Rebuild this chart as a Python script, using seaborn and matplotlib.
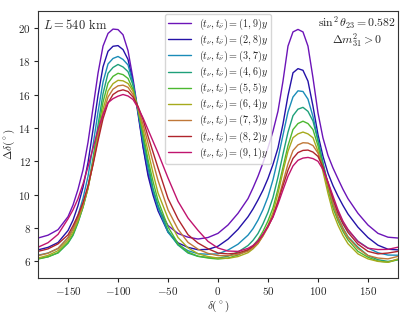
import numpy as np
import pandas as pd
import matplotlib
matplotlib.use("Agg")
import matplotlib.pyplot as plt
import seaborn as sns

sns.set_style("ticks")
plt.rcParams['font.family'] = 'serif'
plt.rcParams['font.serif'] = ['cmr10', 'DejaVu Serif']
plt.rcParams['mathtext.fontset'] = 'cm'
plt.rcParams['axes.formatter.use_mathtext'] = True

# delta_CP grid (degrees), finer around the two peaks
delta = [-180, -170, -160, -150, -145, -140, -135, -130, -125, -120, -115, -110, -105, -100,
         -95, -90, -85, -80, -75, -70, -65, -60, -50, -40, -30, -20, -10, 0, 10, 20, 30, 35,
         40, 45, 50, 55, 60, 65, 70, 75, 80, 85, 90, 95, 100, 105, 110, 115, 120, 125, 130,
         140, 150, 160, 170, 180]

# precision on delta_CP for each (t_nu, t_nubar) split
dd_19 = [7.40, 7.57, 7.90, 8.68, 9.38, 10.32, 11.49, 13.14, 15.20, 17.28, 18.9, 19.66, 19.92, 19.89,
         19.58, 18.63, 16.95, 15.0, 12.9, 11.3, 10.12, 9.22, 8.15, 7.67, 7.45, 7.34, 7.43, 7.68,
         8.18, 8.88, 9.76, 10.4, 11.1, 11.9, 12.8, 13.8, 15.0, 16.8, 18.9, 19.75, 19.9, 19.75, 18.9,
         17.0, 14.9, 13.4, 12.35, 11.6, 10.95, 10.32, 9.76, 8.88, 8.18, 7.68, 7.45, 7.40]
dd_28 = [6.69, 6.84, 7.13, 7.85, 8.47, 9.35, 10.44, 11.93, 13.89, 15.95, 17.66, 18.59, 18.89, 18.93,
         18.69, 18.1, 16.74, 14.84, 12.86, 11.14, 9.97, 9.03, 7.75, 7.11, 6.84, 6.7, 6.72, 6.91,
         7.33, 7.92, 8.67, 9.14, 9.68, 10.27, 10.97, 11.81, 12.8, 14.23, 15.93, 17.3, 17.55, 17.45,
         16.8, 15.3, 13.6, 12.3, 11.29, 10.54, 9.91, 9.35, 8.84, 8.05, 7.43, 6.97, 6.73, 6.69]
dd_37 = [6.37, 6.5, 6.77, 7.42, 7.96, 8.77, 9.78, 11.1, 12.95, 14.96, 16.75, 17.83, 18.16, 18.28,
         18.1, 17.77, 16.68, 15.0, 13.2, 11.57, 10.24, 9.23, 7.75, 7.0, 6.64, 6.46, 6.43, 6.45,
         6.68, 7.03, 7.57, 7.96, 8.47, 9.1, 9.87, 10.89, 12.16, 13.57, 14.95, 15.85, 16.22, 16.18,
         15.72, 14.68, 13.28, 11.89, 10.66, 9.7, 8.97, 8.35, 7.87, 7.21, 6.8, 6.52, 6.38, 6.37]
dd_46 = [6.16, 6.28, 6.51, 7.09, 7.56, 8.32, 9.26, 10.43, 12.18, 14.17, 16.05, 17.27, 17.62, 17.8,
         17.65, 17.37, 16.56, 15.05, 13.45, 11.87, 10.38, 9.38, 7.84, 6.98, 6.5, 6.3, 6.24, 6.2,
         6.31, 6.56, 6.95, 7.26, 7.67, 8.25, 8.94, 9.83, 11.05, 12.42, 13.74, 14.73, 15.12, 15.23,
         14.99, 14.41, 13.25, 11.87, 10.54, 9.43, 8.64, 8.0, 7.48, 6.85, 6.35, 6.1, 6.0, 6.1]
dd_55 = [6.14, 6.27, 6.52, 7.13, 7.62, 8.37, 9.25, 10.38, 11.98, 13.81, 15.55, 16.68, 17.09, 17.27,
         17.19, 16.96, 16.3, 15.1, 13.65, 12.1, 10.79, 9.65, 8.07, 7.07, 6.56, 6.31, 6.2, 6.14,
         6.2, 6.38, 6.68, 6.94, 7.29, 7.8, 8.43, 9.21, 10.34, 11.64, 12.93, 13.9, 14.26, 14.4,
         14.26, 13.9, 12.93, 11.64, 10.34, 9.21, 8.43, 7.8, 7.29, 6.6, 6.25, 6.02, 5.95, 6.1]
dd_64 = [6.2, 6.36, 6.64, 7.26, 7.77, 8.47, 9.32, 10.39, 11.9, 13.55, 15.11, 16.21, 16.65, 16.85,
         16.82, 16.66, 16.2, 15.15, 13.9, 12.6, 11.3, 10.1, 8.58, 7.43, 6.81, 6.46, 6.29, 6.2,
         6.18, 6.29, 6.52, 6.75, 7.06, 7.55, 8.17, 8.93, 10.08, 11.38, 12.6, 13.41, 13.64, 13.75,
         13.64, 13.41, 12.6, 11.38, 10.08, 8.93, 8.17, 7.55, 7.06, 6.45, 6.15, 6.0, 5.95, 6.15]
dd_73 = [6.34, 6.49, 6.78, 7.41, 7.95, 8.61, 9.42, 10.45, 11.86, 13.38, 14.82, 15.85, 16.32, 16.52,
         16.56, 16.43, 16.0, 15.2, 14.2, 13.1, 11.95, 10.85, 9.09, 7.92, 7.14, 6.73, 6.48, 6.35,
         6.34, 6.42, 6.61, 6.82, 7.08, 7.52, 8.05, 8.7, 9.67, 10.76, 11.84, 12.64, 12.98, 13.11,
         13.09, 12.94, 12.49, 11.64, 10.54, 9.46, 8.58, 7.94, 7.43, 6.77, 6.35, 6.2, 6.15, 6.3]
dd_82 = [6.6, 6.75, 7.05, 7.59, 8.14, 8.77, 9.53, 10.54, 11.79, 13.22, 14.55, 15.49, 16.0, 16.2,
         16.28, 16.18, 15.85, 15.3, 14.5, 13.5, 12.55, 11.6, 9.77, 8.54, 7.6, 7.1, 6.76, 6.5,
         6.45, 6.5, 6.7, 6.9, 7.2, 7.62, 8.1, 8.7, 9.56, 10.54, 11.46, 12.17, 12.52, 12.65,
         12.67, 12.55, 12.29, 11.65, 10.73, 9.76, 8.87, 8.24, 7.74, 7.03, 6.6, 6.45, 6.5, 6.6]
dd_91 = [6.85, 7.12, 7.62, 8.55, 9.09, 9.76, 10.65, 11.68, 12.79, 13.89, 14.8, 15.51, 15.75, 15.9,
         16.0, 15.91, 15.7, 15.2, 14.6, 13.9, 13.2, 12.5, 11.0, 9.6, 8.6, 7.86, 7.2, 6.8,
         6.62, 6.6, 6.78, 6.95, 7.22, 7.62, 8.1, 8.65, 9.43, 10.28, 11.1, 11.72, 12.06, 12.19,
         12.23, 12.16, 12.0, 11.51, 10.76, 9.92, 9.09, 8.41, 7.92, 7.18, 6.79, 6.71, 6.72, 6.85]

splits = ["(1,9)", "(2,8)", "(3,7)", "(4,6)", "(5,5)", "(6,4)", "(7,3)", "(8,2)", "(9,1)"]
colors = ["#6c14b8", "#2412a8", "#1a8cb8", "#1ea07a", "#4cb830", "#a6aa1c", "#c07838", "#b0242c", "#c0146e"]

series = [dd_19, dd_28, dd_37, dd_46, dd_55, dd_64, dd_73, dd_82, dd_91]
labels = [r"$(t_\nu, t_{\bar{\nu}}) = %s y$" % s for s in splits]

df = pd.concat([pd.DataFrame({"delta": delta, "dd": v, "label": lab}) for v, lab in zip(series, labels)])

fig = plt.figure(figsize=(4.09, 3.16), dpi=100)
ax = fig.add_axes([0.093, 0.12, 0.88, 0.845])
sns.lineplot(data=df, x="delta", y="dd", hue="label", palette=colors, linewidth=1.0, ax=ax, sort=False)

ax.set_xlim(-180, 180)
ax.set_ylim(5, 21)
ax.set_yticks([6, 8, 10, 12, 14, 16, 18, 20])
ax.set_xticks([-150, -100, -50, 0, 50, 100, 150])
ax.tick_params(labelsize=8, length=3, pad=2)
ax.set_xlabel(r"$\delta(^\circ)$", fontsize=8, labelpad=1)
ax.set_ylabel(r"$\Delta\delta(^\circ)$", fontsize=8, labelpad=1)
for s in ax.spines.values():
    s.set_color("#333333")

ax.text(0.015, 0.975, r"$L = 540$ km", transform=ax.transAxes, fontsize=9, va="top", ha="left")
ax.text(0.885, 0.99, r"$\sin^2\theta_{23} = 0.582$" + "\n" + r"$\Delta m^2_{31} > 0$",
        transform=ax.transAxes, fontsize=8.5, va="top", ha="center", linespacing=1.05)

leg = ax.legend(loc="upper center", fontsize=7.3, title=None, frameon=True, borderaxespad=0.25,
                labelspacing=0.08, handlelength=2.2, borderpad=0.3)
leg.get_frame().set_edgecolor("#cccccc")

fig.savefig("out.png", dpi=100)
